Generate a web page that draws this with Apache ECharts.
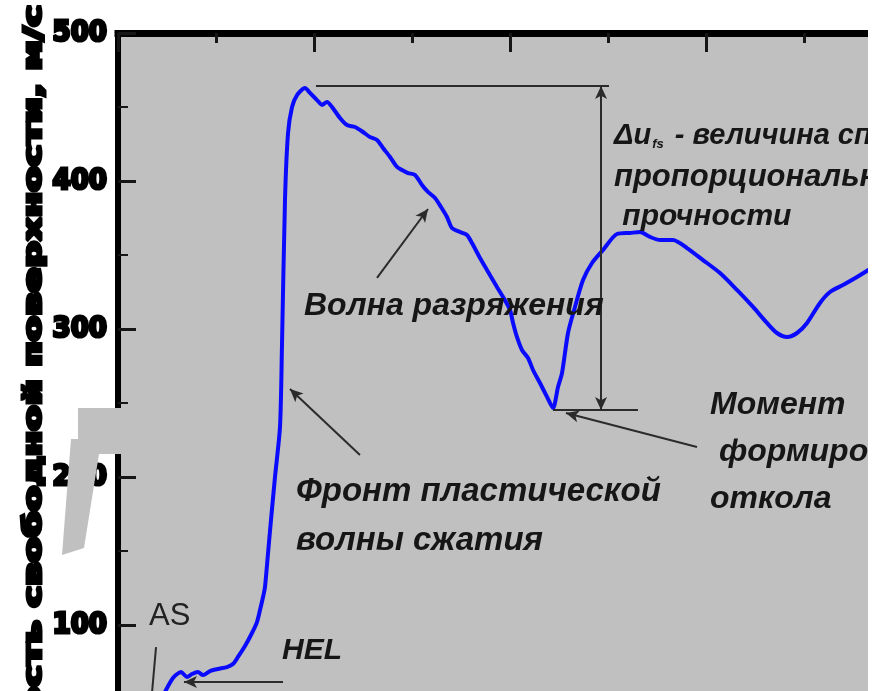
<!DOCTYPE html>
<html>
<head>
<meta charset="utf-8">
<script src="https://cdn.jsdelivr.net/npm/echarts@6/dist/echarts.min.js"></script>
<style>
  html, body { margin: 0; padding: 0; background: #fff; }
  #frame { position: absolute; left: 0; top: 0; width: 868px; height: 691px; overflow: hidden; background: #fff; }
  #chart { width: 920px; height: 800px; }
</style>
</head>
<body>
<div id="frame"><div id="chart"></div></div>
<script>
// Free-surface velocity profile: time (ns) and velocity (m/s)
const timeNs = [
  46.9, 56.1, 64.3, 70.4, 75.5, 81.6, 86.7, 93.9, 102.0, 111.2,
  117.3, 122.4, 129.6, 136.7, 141.8, 144.9, 148.0, 150.0, 153.1, 156.1,
  160.2, 165.3, 167.3, 170.4, 173.5, 177.6, 182.7, 190.8, 195.9, 203.1,
  208.2, 213.3, 218.4, 226.5, 233.7, 241.8, 250.0, 257.1, 264.3, 270.4,
  277.6, 284.7, 289.8, 296.0, 303.1, 310.2, 316.3, 323.5, 329.6, 335.7,
  340.8, 349.0, 356.1, 361.2, 369.4, 376.5, 386.7, 392.9, 400.0, 403.1,
  407.1, 412.2, 418.4, 423.5, 430.6, 437.8, 443.9, 449.0, 453.1, 459.2,
  466.3, 474.5, 483.7, 494.9, 509.2, 522.4, 532.7, 542.9, 553.1, 566.3,
  580.6, 596.9, 614.3, 631.6, 648.0, 662.2, 672.4, 682.7, 692.9, 703.1,
  716.3, 726.5, 739.8, 754.1, 767.3
];
const velocity = [
  53.4, 64.2, 68.2, 64.9, 66.9, 68.2, 66.2, 68.9, 70.3, 71.6,
  73.6, 78.4, 85.8, 94.6, 102.0, 110.1, 118.9, 125.7, 148.6, 170.9,
  200.0, 233.8, 287.8, 387.2, 432.4, 450.0, 458.1, 462.8, 459.5, 454.7,
  451.4, 453.4, 450.0, 442.6, 437.8, 436.5, 433.1, 429.7, 427.7, 422.3,
  416.2, 409.5, 407.4, 405.4, 404.1, 397.3, 392.6, 388.5, 382.4, 375.7,
  368.2, 365.5, 363.5, 358.1, 348.0, 339.9, 328.4, 321.6, 312.8, 304.1,
  294.6, 285.8, 280.4, 272.3, 263.5, 254.1, 246.6, 260.8, 270.3, 297.3,
  314.9, 333.1, 344.6, 353.4, 364.2, 364.9, 365.5, 362.2, 360.1, 360.1,
  354.7, 346.6, 337.8, 326.4, 314.9, 304.1, 297.3, 294.6, 297.3, 304.1,
  317.6, 325.0, 329.7, 335.1, 340.5
];
// labelled velocity ticks
const velocityTicks = [100, 200, 300, 400, 500];

const points = timeNs.map((t, i) => [t, velocity[i]]);

const ink = '#161616';
const italicBold = size => 'italic bold ' + size + 'px "Liberation Sans", Arial, sans-serif';

function note(text, x, y, size, extra) {
  return Object.assign({
    type: 'text', x: x, y: y, z: 40,
    style: {
      text: text, font: italicBold(size), fill: ink,
      align: 'left', textAlign: 'left', verticalAlign: 'middle', textVerticalAlign: 'middle'
    }
  }, extra || {});
}

function seg(a, b, startSym, endSym) {
  return [
    { coord: a, symbol: startSym },
    { coord: b, symbol: endSym }
  ];
}

const chart = echarts.init(document.getElementById('chart'), null, { renderer: 'canvas' });

chart.setOption({
  animation: false,
  backgroundColor: '#ffffff',
  grid: {
    left: 118, top: 33, width: 784, height: 740,
    show: true, backgroundColor: '#c0c0c0', borderWidth: 0
  },
  xAxis: {
    type: 'value', position: 'top', min: 0, max: 800, interval: 200,
    axisLine: { show: true, onZero: false, lineStyle: { color: '#000', width: 7, cap: 'square' } },
    axisTick: { show: true, inside: true, length: 19, lineStyle: { color: ink, width: 3 } },
    minorTick: { show: true, splitNumber: 2, length: 10, lineStyle: { color: ink, width: 3 } },
    axisLabel: { show: false },
    splitLine: { show: false }
  },
  yAxis: {
    type: 'value', min: 0, max: 500, interval: 100,
    axisLine: { show: true, onZero: false, lineStyle: { color: '#000', width: 6, cap: 'square' } },
    axisTick: { show: true, inside: true, length: 18, lineStyle: { color: ink, width: 3 } },
    minorTick: { show: true, splitNumber: 2, length: 10, lineStyle: { color: ink, width: 2 } },
    splitLine: { show: false },
    axisLabel: {
      margin: 11,
      color: '#000',
      fontFamily: '"Liberation Sans Narrow", "DejaVu Sans Condensed", sans-serif',
      fontWeight: 'bold',
      fontSize: 29,
      lineHeight: 34,
      textBorderColor: '#000',
      textBorderWidth: 3,
      formatter: v => (velocityTicks.indexOf(v) >= 0 ? String(v) : '')
    }
  },
  series: [{
    type: 'line',
    data: points,
    showSymbol: false,
    smooth: 0.25,
    lineStyle: { color: '#0a0aff', width: 4 },
    z: 3,
    markLine: {
      silent: true,
      animation: false,
      label: { show: false },
      symbolSize: [9, 13],
      lineStyle: { color: '#2b2b2b', width: 2, type: 'solid' },
      emphasis: { disabled: true },
      data: [
        // peak level
        seg([202.0, 464.2], [501.0, 464.2], 'none', 'none'),
        // spall pullback, two-headed
        seg([492.9, 464.2], [492.9, 245.3], 'arrow', 'arrow'),
        // minimum level
        seg([443.9, 245.3], [530.6, 245.3], 'none', 'none'),
        // spall moment pointer
        seg([590.8, 220.3], [457.1, 243.2], 'none', 'arrow'),
        // rarefaction wave pointer
        seg([264.3, 334.5], [316.3, 381.1], 'none', 'arrow'),
        // plastic front pointer
        seg([246.9, 214.9], [175.5, 259.5], 'none', 'arrow'),
        // HEL pointer
        seg([168.4, 61.5], [67.3, 61.5], 'none', 'arrow'),
        // AS pointer
        seg([34.7, 54.1], [38.8, 85.1], 'none', 'none')
      ]
    }
  }],
  graphic: [
    {
      type: 'text', x: 34, y: 5, rotation: Math.PI / 2, scaleX: 1.64, z: 50,
      style: {
        text: 'Скорость свободной поверхности, м/с',
        font: 'bold 25px "DejaVu Sans Condensed", "DejaVu Sans", sans-serif',
        fill: '#000', stroke: '#000', lineWidth: 3,
        align: 'right', textAlign: 'right', verticalAlign: 'middle', textVerticalAlign: 'middle'
      }
    },
    {
      type: 'polygon', z: 60,
      shape: { points: [[78, 408], [127, 408], [127, 454], [99, 454], [84, 548], [62, 555], [71, 439], [78, 439]] },
      style: { fill: '#c0c0c0' }
    },
    {
      type: 'text', x: 614, y: 136, z: 40,
      style: {
        text: '{a|Δu}{s|fs}{a| - величина спада скорости,}',
        align: 'left', textAlign: 'left', verticalAlign: 'middle', textVerticalAlign: 'middle',
        rich: {
          a: { font: italicBold(29), fill: ink },
          s: { font: italicBold(13), fill: ink, verticalAlign: 'bottom', padding: [0, 3, 0, 1] }
        }
      }
    },
    note('пропорциональная откольной', 614, 177, 31),
    note(' прочности', 614, 217, 30),
    note('Волна разряжения', 304, 306, 32),
    note('Фронт пластической', 296, 492, 33),
    note('волны сжатия', 296, 541, 33),
    note('Момент', 710, 405, 32),
    note(' формирования', 710, 452, 32),
    note('откола', 710, 499, 32),
    note('HEL', 282, 651, 30),
    {
      type: 'text', x: 149, y: 616, z: 40,
      style: { text: 'AS', font: '31px "Liberation Sans", Arial, sans-serif', fill: '#222', align: 'left', textAlign: 'left', verticalAlign: 'middle', textVerticalAlign: 'middle' }
    }
  ]
});
</script>
</body>
</html>
